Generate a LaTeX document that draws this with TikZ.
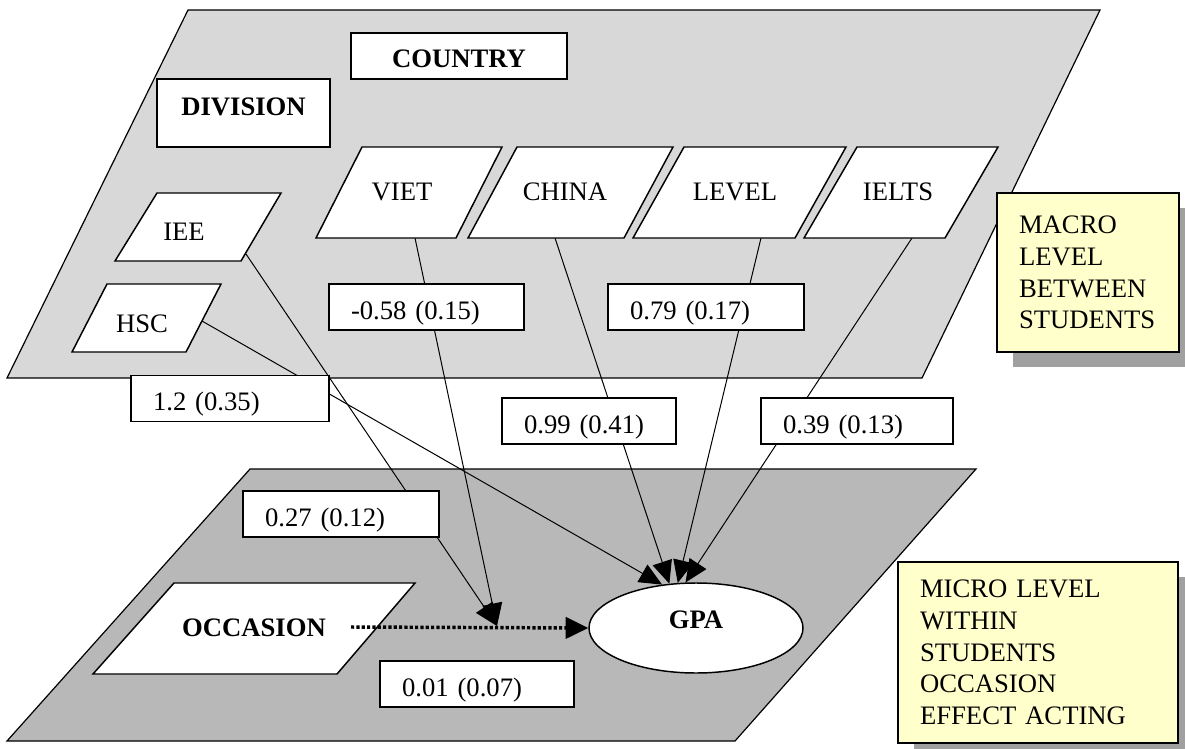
\documentclass[tikz,border=0pt]{standalone}
\usepackage{fontspec}
\setmainfont{Liberation Serif}
\usetikzlibrary{arrows.meta,shapes.geometric,calc}
\definecolor{topplane}{RGB}{216,216,216}
\definecolor{botplane}{RGB}{184,184,184}
\definecolor{notefill}{RGB}{255,255,204}
\definecolor{shadowgray}{RGB}{160,160,160}
\pgfdeclarelayer{planes}
\pgfdeclarelayer{links}
\pgfsetlayers{planes,links,main}
\begin{document}
\begin{tikzpicture}[x=0.75pt,y=-0.75pt,
  every node/.style={font=\fontsize{20}{23.8}\selectfont, inner sep=0pt},
  plane/.style={draw=black, line width=0.9pt},
  pgram/.style={draw=black, fill=white, line width=1.1pt},
  rbox/.style={draw=black, fill=white, line width=1.1pt, inner sep=0pt},
  coef/.style={rbox, minimum height=34.5pt, inner xsep=16.5pt, align=left, text height=18.5pt, text depth=0pt},
  note/.style={draw=black, fill=notefill, line width=1.1pt, inner xsep=16.5pt, inner ysep=0pt, align=left},
  link/.style={draw=black, line width=0.75pt},
  tipped/.style={-{Triangle[length=17pt,width=15pt]}},
  bf/.style={font=\fontsize{20}{23.8}\selectfont\bfseries},
  lbl/.style={anchor=base}]
\useasboundingbox (0,0) rectangle (1185,749);

\begin{pgfonlayer}{planes}
\fill[white] (0,0) rectangle (1185,749);
\draw[plane, fill=topplane] (188,10) -- (1100,10) -- (922,378) -- (7,378) -- cycle;
\draw[plane, fill=botplane] (250,469) -- (976,469) -- (735,741) -- (7,741) -- cycle;
\end{pgfonlayer}

% upper level boxes
\node[rbox, bf, minimum width=162pt, minimum height=34.5pt, text height=18pt, text depth=0pt] (country) at (459,56) {COUNTRY};
\node[rbox, bf, minimum width=129.75pt, minimum height=51pt, text height=14pt, text depth=11pt] (division) at (243.5,113) {DIVISION};

% parallelograms
\draw[pgram] (362,147) -- (502,147) -- (456,238) -- (316,238) -- cycle;
\node[lbl] (viet) at (402,200) {VIET};
\draw[pgram] (517,147) -- (673,147) -- (624,238) -- (468,238) -- cycle;
\node[lbl] (china) at (565,200) {CHINA};
\draw[pgram] (684,147) -- (846,147) -- (795,238) -- (633,238) -- cycle;
\node[lbl] (level) at (735,200) {LEVEL};
\draw[pgram] (857,147) -- (998,147) -- (945,238) -- (804,238) -- cycle;
\node[lbl] (ielts) at (898,200) {IELTS};
\draw[pgram] (157,193) -- (281,193) -- (241,261) -- (115,261) -- cycle;
\node[lbl] (iee) at (184,240) {IEE};
\draw[pgram] (107,284) -- (221,284) -- (186,352) -- (72,352) -- cycle;
\node[lbl] (hsc) at (142,332) {HSC};
\draw[pgram] (174,583) -- (415,583) -- (337,674) -- (93,674) -- cycle;
\node[lbl,bf] (occ) at (254,636) {OCCASION};

\node[draw=black, fill=white, ellipse, line width=1.1pt, minimum width=160.5pt, minimum height=67.5pt, bf, text height=7pt, text depth=7pt] (gpa) at (696,628) {GPA};

% connector end points on the shapes
\coordinate (viet-out) at (415,238);
\coordinate (china-out) at (555,238);
\coordinate (level-out) at (761,238);
\coordinate (ielts-out) at (912,238);
\coordinate (iee-out) at (246,254);
\coordinate (hsc-out) at (202,321);
\coordinate (occ-out) at (351,627);
\coordinate (cross) at (497,626);

% coefficient boxes
\node[coef, text width=113.25pt] (k-viet) at (426.5,307) {-0.58 (0.15)};
\node[coef, text width=114pt] (k-level) at (706,307) {0.79 (0.17)};
\node[coef, text width=115.5pt] (k-hsc) at (230,398.5) {1.2 (0.35)};
\node[coef, text width=97.5pt] (k-china) at (589,421) {0.99 (0.41)};
\node[coef, text width=111pt] (k-ielts) at (857,421) {0.39 (0.13)};
\node[coef, text width=114pt] (k-iee) at (341,514) {0.27 (0.12)};
\node[coef, text width=112.5pt] (k-occ) at (477,684) {0.01 (0.07)};

% notes
\fill[shadowgray] (1013,208) rectangle (1185,367);
\node[note, text width=103.5pt, minimum height=119.25pt] (macro) at (1088,272.5) {MACRO\\LEVEL\\BETWEEN\\STUDENTS};
\fill[shadowgray] (914,577) rectangle (1185,749);
\node[note, text width=177pt, minimum height=135.75pt] (micro) at (1038,652.5) {MICRO LEVEL\\WITHIN\\STUDENTS\\OCCASION\\EFFECT ACTING};

% connectors
\begin{pgfonlayer}{links}
\draw[link,tipped] (viet-out) -- (cross);
\draw[link,tipped] (iee-out) -- (cross);
\draw[link,tipped] (hsc-out) -- (gpa.128);
\draw[link,tipped] (china-out) -- (gpa.121);
\draw[link,tipped] (level-out) -- (gpa.112);
\draw[link,tipped] (ielts-out) -- (gpa.103);
\end{pgfonlayer}
\draw[line width=2.6pt, dash pattern=on 2.4pt off 1.6pt, -{Triangle[length=17pt,width=16pt]}] (occ-out) -- (gpa.west);
\end{tikzpicture}
\end{document}
